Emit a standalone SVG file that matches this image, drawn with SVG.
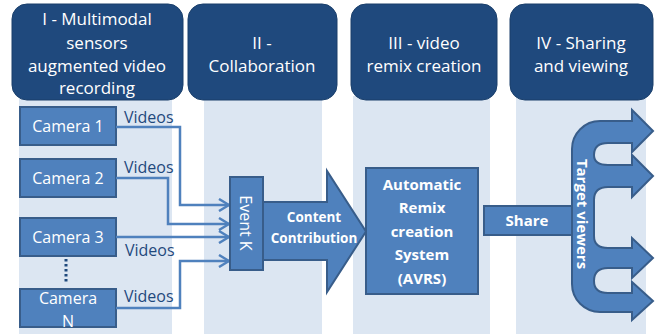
<svg xmlns="http://www.w3.org/2000/svg" width="655" height="334" viewBox="0 0 655 334">
<style>
.col{fill:#dce6f2}
.hdr{fill:#1f497d;stroke:#1a3f6b;stroke-width:1}
.box{fill:#4f81bd;stroke:#385d8a;stroke-width:2}
.ht{font-family:"Open Sans","Liberation Sans",sans-serif;font-size:17px;fill:#fff;text-anchor:middle}
.ct{font-family:"Open Sans","Liberation Sans",sans-serif;font-size:16px;fill:#fff;text-anchor:middle}
.bt{font-family:"Open Sans","Liberation Sans",sans-serif;font-weight:bold;fill:#fff;text-anchor:middle}
.vt{font-family:"Open Sans","Liberation Sans",sans-serif;font-size:16px;fill:#1f497d}
.con{fill:none;stroke:#4f81bd;stroke-width:2.5}
</style>
<defs>
<marker id="ah" viewBox="0 0 12 14" refX="11" refY="7" markerWidth="12" markerHeight="14" markerUnits="userSpaceOnUse" orient="auto">
<path d="M1,1 L11,7 L1,13" fill="none" stroke="#4f81bd" stroke-width="2.5"/>
</marker>
</defs>
<rect width="655" height="334" fill="#fff"/>
<g id="columns">
<rect class="col" x="19" y="96" width="153" height="238"/>
<rect class="col" x="204" y="96" width="118" height="238"/>
<rect class="col" x="353" y="96" width="137" height="238"/>
<rect class="col" x="516" y="96" width="130" height="238"/>
</g>
<g id="h1"><rect class="hdr" x="12" y="4" width="171" height="96" rx="15"/>
<text class="ht" x="97" y="25">I - Multimodal</text><text class="ht" x="97" y="49">sensors</text><text class="ht" x="97" y="72">augmented video</text><text class="ht" x="97" y="94">recording</text></g>
<g id="h2"><rect class="hdr" x="188" y="4" width="149" height="96" rx="15"/>
<text class="ht" x="262" y="49">II -</text><text class="ht" x="262" y="72">Collaboration</text></g>
<g id="h3"><rect class="hdr" x="351" y="4" width="146" height="96" rx="15"/>
<text class="ht" x="424" y="49">III - video</text><text class="ht" x="424" y="72">remix creation</text></g>
<g id="h4"><rect class="hdr" x="510" y="4" width="143" height="96" rx="15"/>
<text class="ht" x="581" y="49">IV - Sharing</text><text class="ht" x="581" y="72">and viewing</text></g>
<g id="cam1"><rect class="box" x="20" y="107" width="96" height="38"/><text class="ct" x="68" y="132">Camera 1</text></g>
<g id="cam2"><rect class="box" x="20" y="159" width="96" height="38"/><text class="ct" x="68" y="184">Camera 2</text></g>
<g id="cam3"><rect class="box" x="20" y="218" width="96" height="38"/><text class="ct" x="68" y="243">Camera 3</text></g>
<g id="camN"><rect class="box" x="20" y="289" width="96" height="38"/><text class="ct" x="68" y="304">Camera</text><text class="ct" x="68" y="327">N</text></g>
<line x1="66" y1="259" x2="66" y2="284" stroke="#1f497d" stroke-width="3" stroke-dasharray="2.5,2.5"/>
<g id="connectors">
<path class="con" d="M116,127 H180 V205 H229" marker-end="url(#ah)"/>
<path class="con" d="M116,178 H168 V224 H229" marker-end="url(#ah)"/>
<path class="con" d="M116,237 H229" marker-end="url(#ah)"/>
<path class="con" d="M116,308 H180 V261 H229" marker-end="url(#ah)"/>
<text class="vt" x="124" y="123">Videos</text>
<text class="vt" x="124" y="173">Videos</text>
<text class="vt" x="125" y="256">Videos</text>
<text class="vt" x="124" y="302">Videos</text>
</g>
<g id="contribution"><path class="box" d="M263,202 H327 V171 L366,231.5 L327,292 V260 H263 Z"/>
<text class="bt" x="314" y="222" font-size="13.5">Content</text><text class="bt" x="314" y="243" font-size="13.5">Contribution</text></g>
<g id="eventk"><rect class="box" x="230" y="177" width="33" height="93"/>
<text class="ct" transform="translate(246,223) rotate(90)" y="0" dominant-baseline="central" font-size="17">Event K</text></g>
<g id="avrs"><rect class="box" x="366" y="168" width="112" height="126"/>
<text class="bt" font-size="15" x="422" y="190">Automatic</text><text class="bt" font-size="15" x="422" y="213">Remix</text><text class="bt" font-size="15" x="422" y="237">creation</text><text class="bt" font-size="15" x="422" y="260">System</text><text class="bt" font-size="15" x="422" y="284">(AVRS)</text></g>
<g id="share"><rect class="box" x="484" y="206" width="89" height="29"/><text class="bt" font-size="15" x="527" y="226">Share</text></g>
<g id="viewers">
<path class="box" d="M653,131 L632,110 V121 H600 A28,28 0 0 0 572,149 V284 A28,28 0 0 0 600,312 H632 V320 L653,301 L632,282 V293 H608 Q594,293 594,281 Q594,268 608,268 H632 V278 L653,258 L632,238 V248 H608 Q594,248 594,236 V200 Q594,187 608,187 H632 V197 L653,176 L632,155 V165 H608 Q594,165 594,155 Q594,143 608,143 H632 V152 Z"/>
<text class="bt" font-size="15" transform="translate(583,214) rotate(90)" dominant-baseline="central">Target viewers</text>
</g>
</svg>
